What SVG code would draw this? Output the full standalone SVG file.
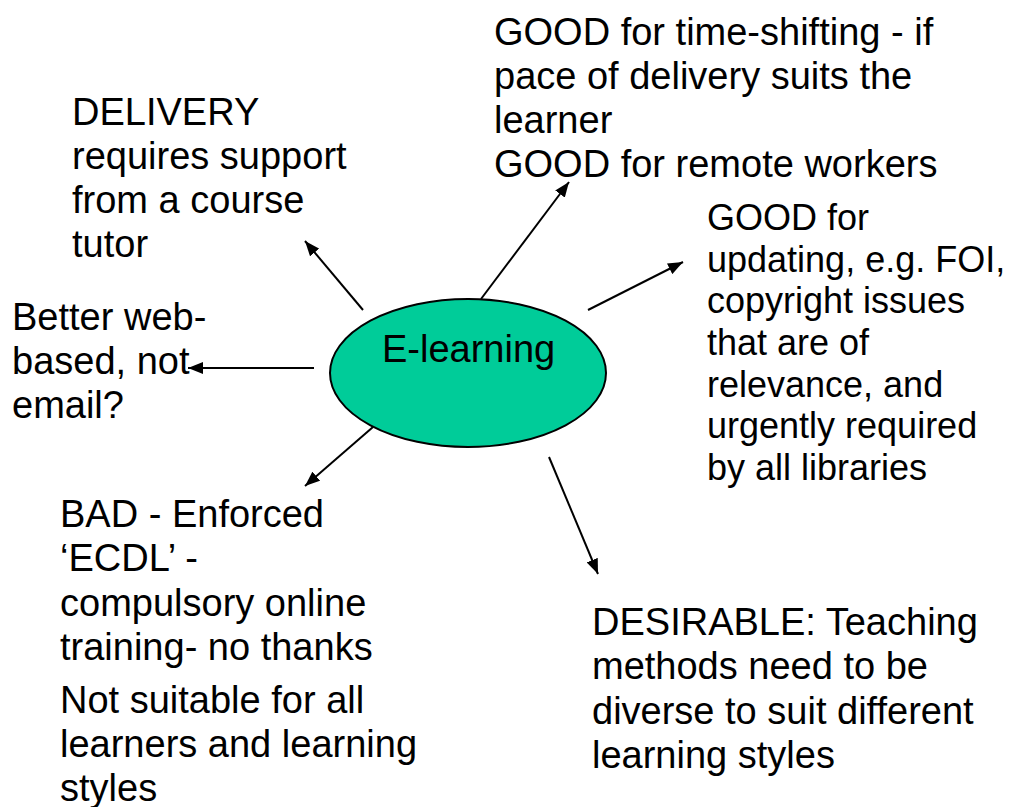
<svg xmlns="http://www.w3.org/2000/svg" width="1020" height="807" viewBox="0 0 1020 807">
<style>
text { font-family: "Liberation Sans", Arial, sans-serif; font-size: 38px; fill: #000; }
.sm { font-size: 36px; }
.conn line { stroke: #000; stroke-width: 2; marker-end: url(#arr); }
</style>
<defs>
<marker id="arr" markerUnits="userSpaceOnUse" markerWidth="16" markerHeight="12" refX="15" refY="6" orient="auto">
<path d="M0,0 L15,6 L0,12 z" fill="#000"/>
</marker>
</defs>
<rect width="1020" height="807" fill="#fff"/>
<g id="center">
<ellipse cx="468" cy="373" rx="138" ry="74" fill="#00CC99" stroke="#000" stroke-width="2"/>
<text x="382" y="362">E-learning</text>
</g>
<g class="conn" id="connectors">
<line x1="363" y1="310" x2="305" y2="241"/>
<line x1="481" y1="299" x2="569" y2="182"/>
<line x1="588" y1="310" x2="683" y2="262"/>
<line x1="314" y1="368" x2="188" y2="368"/>
<line x1="373" y1="427" x2="305" y2="486"/>
<line x1="549" y1="457" x2="598" y2="574"/>
</g>
<g id="delivery">
<text x="72" y="125">DELIVERY</text>
<text x="72" y="169">requires support</text>
<text x="72" y="213">from a course</text>
<text x="72" y="257">tutor</text>
</g>
<g id="good-time">
<text x="494" y="45">GOOD for time-shifting - if</text>
<text x="494" y="89">pace of delivery suits the</text>
<text x="494" y="133">learner</text>
<text x="494" y="177">GOOD for remote workers</text>
</g>
<g id="good-updating">
<text class="sm" x="707" y="230">GOOD for</text>
<text class="sm" x="707" y="272">updating, e.g. FOI,</text>
<text class="sm" x="707" y="313">copyright issues</text>
<text class="sm" x="707" y="355">that are of</text>
<text class="sm" x="707" y="397">relevance, and</text>
<text class="sm" x="707" y="438">urgently required</text>
<text class="sm" x="707" y="480">by all libraries</text>
</g>
<g id="better-web">
<text x="12" y="330">Better web-</text>
<text x="12" y="374">based, not</text>
<text x="12" y="418">email?</text>
</g>
<g id="bad">
<text x="60" y="527">BAD - Enforced</text>
<text x="60" y="571">‘ECDL’ -</text>
<text x="60" y="616">compulsory online</text>
<text x="60" y="660">training- no thanks</text>
<text x="60" y="713">Not suitable for all</text>
<text x="60" y="757">learners and learning</text>
<text x="60" y="801">styles</text>
</g>
<g id="desirable">
<text x="592" y="635">DESIRABLE: Teaching</text>
<text x="592" y="679">methods need to be</text>
<text x="592" y="724">diverse to suit different</text>
<text x="592" y="768">learning styles</text>
</g>
</svg>
